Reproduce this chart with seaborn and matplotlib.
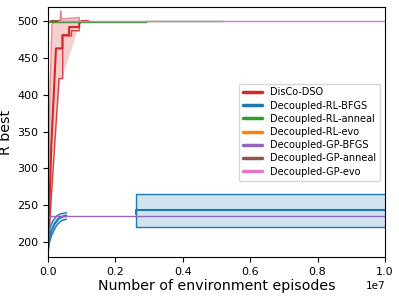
import numpy as np
import pandas as pd
import matplotlib
matplotlib.use("Agg")
import matplotlib.pyplot as plt
import seaborn as sns
from matplotlib.lines import Line2D

sns.set_style("ticks", {"axes.edgecolor": "black", "xtick.color": "black",
                        "ytick.color": "black", "text.color": "black",
                        "axes.labelcolor": "black"})
plt.rcParams['font.family'] = ['DejaVu Sans']

labels = ["DisCo-DSO", "Decoupled-RL-BFGS", "Decoupled-RL-anneal", "Decoupled-RL-evo",
          "Decoupled-GP-BFGS", "Decoupled-GP-anneal", "Decoupled-GP-evo"]
colors = sns.color_palette("tab10")
palette = [colors[3], colors[0], colors[2], colors[1], colors[4], colors[5], colors[6]]

# DisCo-DSO
disco_x_mean = [0, 1.0e5, 2.4e5, 4.3e5, 4.3e5, 6.3e5, 6.3e5, 9.3e5, 9.3e5, 1.0e6, 1.2e6]
disco_mean = [180, 330, 463, 463, 481, 481, 492, 492, 497, 500, 500]
disco_x_lo = [0, 1.0e5, 3.3e5, 4.4e5, 4.4e5, 7.0e5, 7.0e5, 9.3e5, 9.3e5, 1.0e6, 1.2e6]
disco_lo = [180, 260, 422, 422, 480, 480, 487, 487, 497, 500, 500]
disco_x_hi = [0, 0.6e5, 1.2e5, 2.0e5, 3.6e5, 3.8e5, 4.0e5, 9.3e5, 9.3e5, 1.0e6, 1.2e6]
disco_hi = [200, 400, 495, 500, 500, 514, 503, 505, 500, 500, 500]

# Decoupled-RL-BFGS (two segments)
rlb_x1 = [0, 2e4, 5e4, 1e5, 1.5e5, 2e5, 2.5e5, 3e5, 3.5e5, 4e5, 4.5e5, 5.5e5]
rlb_mean1 = [190, 200, 207, 215, 220, 225, 228, 231, 233, 234, 235, 236]
rlb_lo1 = [185, 192, 200, 208, 213, 218, 222, 225, 227, 229, 230, 231]
rlb_hi1 = [195, 210, 218, 224, 229, 232, 235, 237, 238, 239, 239, 240]
rlb_x2 = [2.6e6, 2.6e6, 1.0e7]
rlb_mean2 = [238, 243, 243]
rlb_lo2 = [220.5, 220.5, 220.5]
rlb_hi2 = [265, 265, 265]

# Decoupled-RL-anneal
rla_x = [0, 2.9e6, 2.9e6, 5.2e6]
rla_y = [499, 499, 500, 500]
# Decoupled-RL-evo
rle_x = [0, 3.0e5]
rle_y = [500, 500]
# Decoupled-GP-BFGS
gpb_x = [0, 3e4, 3e4, 1.0e7]
gpb_y = [233, 233, 236, 236]
# Decoupled-GP-anneal
gpa_x = [1.0e5, 3.5e5]
gpa_y = [500, 500]
# Decoupled-GP-evo
gpe_x = [3.0e5, 6.0e5, 1.2e6, 1.0e7]
gpe_y = [500, 500, 500, 500]
gpe_lo = [498.5, 498.5, 499.5, 500]
gpe_hi = [501.5, 501.5, 500.5, 500]

fig = plt.figure(figsize=(3.99, 2.97), dpi=100)
ax = fig.add_axes([0.12, 0.135, 0.845, 0.841])

def line(x, y, c, lw=1.5, alpha=1.0):
    sns.lineplot(x=x, y=y, ax=ax, color=c, lw=lw, alpha=alpha, estimator=None, sort=False)

# DisCo-DSO
ax.fill_between(disco_x_hi, np.interp(disco_x_hi, disco_x_lo, disco_lo), disco_hi,
                color=palette[0], alpha=0.22, lw=0)
line(disco_x_lo, disco_lo, palette[0], lw=1.0, alpha=0.85)
line(disco_x_hi, disco_hi, palette[0], lw=1.0, alpha=0.5)
line(disco_x_mean, disco_mean, palette[0], lw=1.5)

# RL-BFGS
ax.fill_between(rlb_x1, rlb_lo1, rlb_hi1, color=palette[1], alpha=0.2, lw=0)
line(rlb_x1, rlb_lo1, palette[1], lw=1.0)
line(rlb_x1, rlb_hi1, palette[1], lw=1.0)
line(rlb_x1, rlb_mean1, palette[1], lw=1.5)
ax.fill_between(rlb_x2, rlb_lo2, rlb_hi2, color=palette[1], alpha=0.2, lw=0)
line(rlb_x2, rlb_lo2, palette[1], lw=1.0)
line(rlb_x2, rlb_hi2, palette[1], lw=1.0)
line([2.6e6, 2.6e6], [rlb_lo2[0], rlb_hi2[0]], palette[1], lw=1.0)
line(rlb_x2, rlb_mean2, palette[1], lw=1.5)

line(rla_x, rla_y, palette[2], lw=1.0)
line(rle_x, rle_y, palette[3], lw=1.0)
line(gpb_x, gpb_y, palette[4], lw=1.0)
line(gpa_x, gpa_y, palette[5], lw=1.5)
ax.fill_between(gpe_x, gpe_lo, gpe_hi, color=palette[6], alpha=0.5, lw=0)
line(gpe_x, gpe_y, palette[6], lw=1.0)

ax.set_xlim(0, 1.0e7)
ax.set_ylim(180, 519)
ax.set_xlabel("Number of environment episodes", fontsize=10.2, labelpad=2)
ax.set_ylabel("R best", fontsize=10.2, labelpad=3)
ax.tick_params(labelsize=8)
ax.xaxis.get_offset_text().set_fontsize(7.5)
for s in ax.spines.values():
    s.set_visible(True)
    s.set_color("black")

handles = [Line2D([0], [0], color=c, lw=2.5) for c in palette]
ax.legend(handles, labels, loc="center right", fontsize=7, handlelength=2.0,
          labelspacing=0.33, frameon=True)

fig.savefig("out.png", dpi=100)
